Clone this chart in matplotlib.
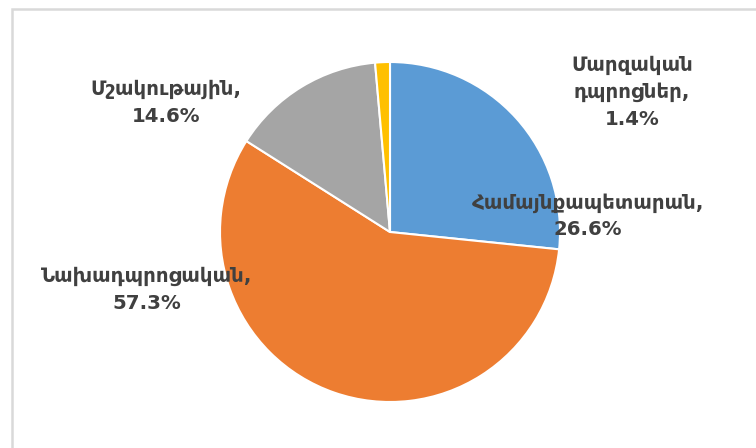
import matplotlib
matplotlib.use("Agg")
import matplotlib.pyplot as plt
from matplotlib.patches import Rectangle

plt.rcParams['font.family'] = ['DejaVu Sans']

categories = ["Համայնքապետարան", "Նախադպրոցական", "Մշակութային", "Մարզական\nդպրոցներ"]
shares = [26.6, 57.3, 14.6, 1.4]
colors = ["#5B9BD5", "#ED7D31", "#A5A5A5", "#FFC000"]

W, H = 756, 448
fig = plt.figure(figsize=(W / 100, H / 100), dpi=100)
ax = fig.add_axes([0, 0, 1, 1])

# chart area frame
ax.add_patch(Rectangle((11.5, -5), W, H - 9 + 5, fill=False,
                       edgecolor="#d9d9d9", linewidth=1.8))

cx, cy, r = 390, H - 232, 170
ax.pie(shares, colors=colors, startangle=90, counterclock=False,
       center=(cx, cy), radius=r, frame=True,
       wedgeprops=dict(edgecolor="white", linewidth=1.5))
ax.set_xlim(0, W)
ax.set_ylim(0, H)
ax.set_aspect('equal')
ax.axis('off')

# data labels: category name plus percentage
label_pos = [(588, H - 216), (147, H - 290), (166, H - 103), (632, H - 92)]
for name, val, (x, y) in zip(categories, shares, label_pos):
    ax.text(x, y, f"{name},\n{val:.1f}%", ha="center", va="center",
            fontsize=14.2, fontweight="bold", color="#404040",
            linespacing=1.5)

fig.savefig("out.png", dpi=100)
